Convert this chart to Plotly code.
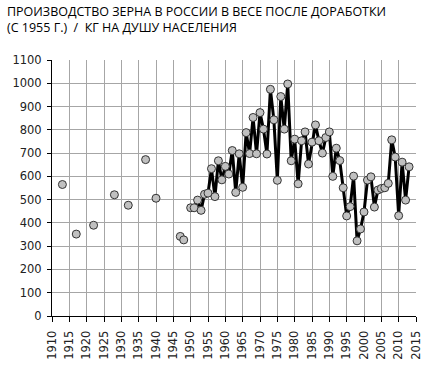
import plotly.graph_objects as go

early_years = [1913, 1917, 1922, 1928, 1932, 1937, 1940, 1947, 1948]
early_vals = [565, 352, 390, 521, 476, 672, 506, 342, 327]

years = list(range(1950, 2014))
vals = [465, 465, 498, 454, 523, 528, 633, 513, 667, 585,
        643, 610, 711, 531, 697, 553, 788, 698, 853, 697,
        874, 803, 696, 974, 843, 583, 943, 803, 997, 667,
        760, 568, 753, 791, 653, 747, 821, 753, 700, 767,
        791, 600, 721, 668, 551, 430, 470, 601, 323, 374,
        447, 584, 598, 468, 541, 548, 551, 570, 757, 683,
        431, 661, 498, 641]

x_ticks = list(range(1910, 2016, 5))
y_ticks = list(range(0, 1101, 100))

title_lines = ["ПРОИЗВОДСТВО ЗЕРНА В РОССИИ В ВЕСЕ ПОСЛЕ ДОРАБОТКИ",
               "(С 1955 Г.)  /  КГ НА ДУШУ НАСЕЛЕНИЯ"]

marker = dict(size=8, color="#c0c0c0", line=dict(color="#333333", width=1))

fig = go.Figure()
fig.add_trace(go.Scatter(x=early_years, y=early_vals, mode="markers",
                         marker=marker, showlegend=False))
fig.add_trace(go.Scatter(x=years, y=vals, mode="lines+markers",
                         line=dict(color="black", width=3),
                         marker=marker, showlegend=False))

L, R, T, B = 50, 12, 60, 60
W, H = 435, 376
ph = H - T - B
pw = W - L - R
fig.add_annotation(text="<br>".join(title_lines), xref="paper", yref="paper",
                   x=(2 - L) / pw, y=(H - B - 19.5) / ph,
                   xanchor="left", yanchor="middle", align="left",
                   showarrow=False,
                   font=dict(family="Open Sans", size=12.5, color="black"))

fig.update_layout(
    width=W, height=H,
    margin=dict(l=L, r=R, t=T, b=B),
    paper_bgcolor="white", plot_bgcolor="white",
    font=dict(family="DejaVu Sans", size=11.5, color="#222222"),
)
fig.update_xaxes(range=[1910, 2015], tickvals=x_ticks, tickangle=-90,
                 showgrid=True, gridcolor="#a6a6a6", gridwidth=1,
                 showline=True, linecolor="black", linewidth=1,
                 ticks="outside", ticklen=5, tickcolor="black",
                 ticklabelstandoff=4, zeroline=False)
fig.update_yaxes(range=[0, 1100], tickvals=y_ticks,
                 showgrid=True, gridcolor="#a6a6a6", gridwidth=1,
                 showline=True, linecolor="black", linewidth=1,
                 ticks="outside", ticklen=4, tickcolor="black",
                 ticklabelstandoff=3, zeroline=False)
fig.write_html("out.html")
